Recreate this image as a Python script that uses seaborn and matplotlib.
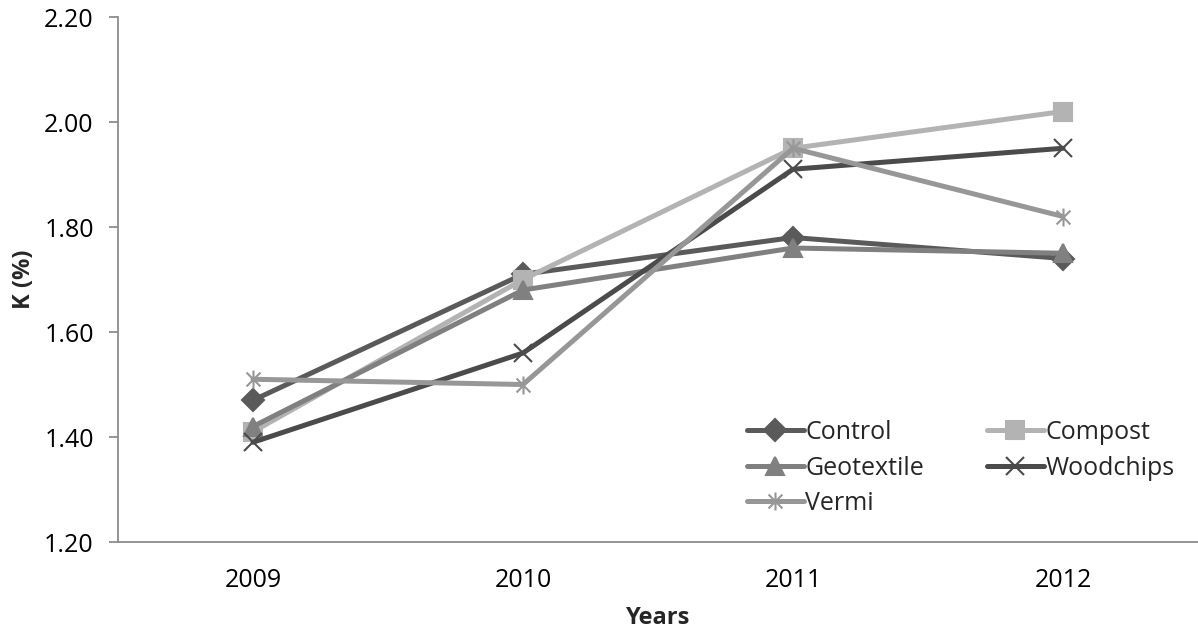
import matplotlib
matplotlib.use("Agg")
import matplotlib.pyplot as plt
import seaborn as sns
import pandas as pd
from matplotlib.path import Path
from matplotlib.ticker import FormatStrFormatter

years = ["2009", "2010", "2011", "2012"]
control = [1.47, 1.71, 1.78, 1.74]
compost = [1.41, 1.70, 1.95, 2.02]
geotextile = [1.42, 1.68, 1.76, 1.75]
woodchips = [1.39, 1.56, 1.91, 1.95]
vermi = [1.51, 1.50, 1.95, 1.82]
y_ticks = [1.20, 1.40, 1.60, 1.80, 2.00, 2.20]

sns.set_theme(style="white")
plt.rcParams["font.family"] = ["Open Sans", "DejaVu Sans"]

# asterisk marker: an x with a vertical bar through it
asterisk = Path(
    [(-1, -1), (1, 1), (-1, 1), (1, -1), (0, -1.3), (0, 1.3)],
    [Path.MOVETO, Path.LINETO, Path.MOVETO, Path.LINETO, Path.MOVETO, Path.LINETO],
)

series = [
    ("Control", control, "#5a5a5a", "D", 11, True),
    ("Compost", compost, "#b3b3b3", "s", 13.5, True),
    ("Geotextile", geotextile, "#808080", "^", 13, True),
    ("Woodchips", woodchips, "#4b4b4b", "x", 13, False),
    ("Vermi", vermi, "#979797", asterisk, 13, False),
]

fig = plt.figure(figsize=(11.98, 6.33), dpi=100)
ax = fig.add_axes([118 / 1198, 91 / 633, 1080 / 1198, 525 / 633])

for name, vals, color, marker, ms, filled in series:
    df = pd.DataFrame({"Years": years, "K": vals})
    sns.lineplot(
        data=df, x="Years", y="K", ax=ax, sort=False,
        color=color, lw=3.6, marker=marker, ms=ms,
        mec=color, mfc=color if filled else "none", mew=1.5,
        label=name,
    )

ax.set_xlim(-0.5, 3.5)
ax.set_ylim(1.2, 2.2)
ax.set_yticks(y_ticks)
ax.yaxis.set_major_formatter(FormatStrFormatter("%.2f"))

for side in ["top", "right"]:
    ax.spines[side].set_visible(False)
for side in ["left", "bottom"]:
    ax.spines[side].set_color("#8c8c8c")
    ax.spines[side].set_linewidth(1.3)

fs = 18
ax.tick_params(axis="y", which="major", left=True, length=6.5, width=1.3,
               color="#8c8c8c", labelsize=fs, labelcolor="black", pad=11)
ax.tick_params(axis="x", bottom=False, labelsize=fs, labelcolor="black", pad=13)

ax.set_xlabel("Years", fontsize=fs - 1, fontweight="bold", labelpad=9)
ax.set_ylabel("K (%)", fontsize=fs - 1, fontweight="bold", labelpad=6)

h, l = ax.get_legend_handles_labels()
lookup = dict(zip(l, h))
order = ["Control", "Geotextile", "Vermi", "Compost", "Woodchips"]
ax.legend(
    [lookup[o] for o in order], order,
    ncol=2, frameon=False, fontsize=fs,
    loc="upper left", bbox_to_anchor=(0.582, 0.232),
    borderpad=0, borderaxespad=0,
    handlelength=2.3, handletextpad=0.05, columnspacing=2.5,
    labelspacing=0.42,
)

fig.savefig("out.png", dpi=100)
